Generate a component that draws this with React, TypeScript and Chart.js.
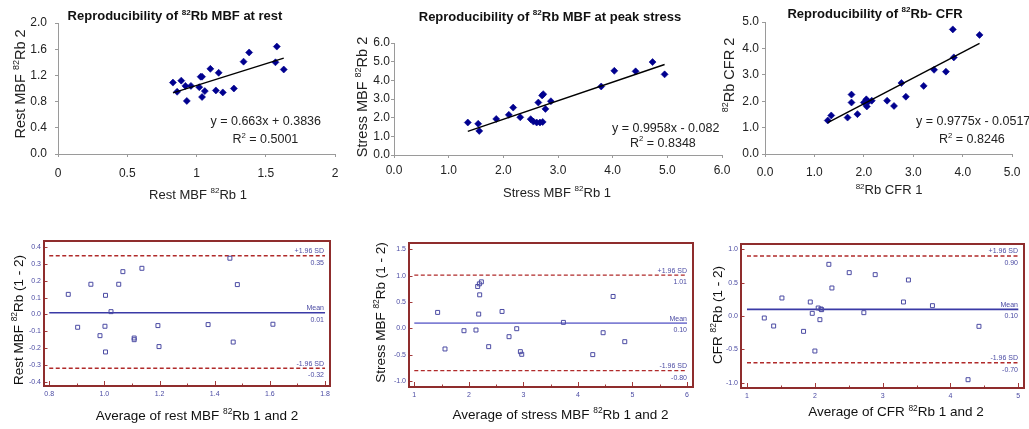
import React, { useEffect, useRef } from 'react';
import { Chart, registerables } from 'chart.js';

Chart.register(...registerables);

const PAGE_W = 1029;
const PAGE_H = 429;
const FONT = '"Liberation Sans", Arial, Helvetica, sans-serif';

// ---------------- data: test-retest scatter plots ----------------
const restRb1 = [0.83, 0.86, 0.89, 0.92, 0.93, 0.96, 1.02, 1.03, 1.04, 1.04, 1.06, 1.1, 1.14, 1.16, 1.19, 1.27, 1.34, 1.38, 1.57, 1.58, 1.63];
const restRb2 = [1.09, 0.95, 1.12, 1.04, 0.81, 1.04, 1.02, 1.18, 1.18, 0.87, 0.96, 1.3, 0.97, 1.24, 0.94, 1.0, 1.41, 1.55, 1.4, 1.64, 1.29];
const restFit = [0.663, 0.3836];
const restR2 = 0.5001;

const stressRb1 = [1.35, 1.54, 1.56, 1.87, 2.1, 2.18, 2.31, 2.5, 2.55, 2.61, 2.67, 2.72, 2.64, 2.71, 2.73, 2.77, 2.87, 3.79, 4.03, 4.42, 4.73, 4.95];
const stressRb2 = [1.74, 1.67, 1.29, 1.93, 2.15, 2.54, 2.02, 1.92, 1.79, 1.74, 1.74, 1.77, 2.81, 3.19, 3.26, 2.47, 2.88, 3.67, 4.51, 4.48, 4.98, 4.32];
const stressFit = [0.9958, -0.082];
const stressR2 = 0.8348;

const cfrRb1 = [1.27, 1.34, 1.67, 1.75, 1.75, 1.87, 2.0, 2.05, 2.06, 2.09, 2.16, 2.47, 2.61, 2.76, 2.85, 3.21, 3.42, 3.66, 3.8, 3.82, 4.34];
const cfrRb2 = [1.27, 1.46, 1.38, 2.25, 1.95, 1.51, 1.95, 2.07, 1.8, 1.98, 2.02, 2.02, 1.82, 2.69, 2.17, 2.58, 3.19, 3.12, 4.72, 3.66, 4.51];
const cfrFit = [0.9775, -0.0517];
const cfrR2 = 0.8246;

const restXTicks = [0, 0.5, 1, 1.5, 2];
const restXTickLabels = ['0', '0.5', '1', '1.5', '2'];
const restYTicks = [0, 0.4, 0.8, 1.2, 1.6, 2.0];
const restYTickLabels = ['0.0', '0.4', '0.8', '1.2', '1.6', '2.0'];
const stressTicks = [0, 1, 2, 3, 4, 5, 6];
const stressTickLabels = ['0.0', '1.0', '2.0', '3.0', '4.0', '5.0', '6.0'];
const cfrTicks = [0, 1, 2, 3, 4, 5];
const cfrTickLabels = ['0.0', '1.0', '2.0', '3.0', '4.0', '5.0'];

// ---------------- data: Bland-Altman plots ----------------
const restAvg = [0.869, 0.903, 0.951, 0.984, 1.002, 1.004, 1.004, 1.024, 1.052, 1.067, 1.108, 1.108, 1.136, 1.194, 1.198, 1.376, 1.455, 1.467, 1.482, 1.611];
const restDiff = [0.12, -0.076, 0.18, -0.126, -0.07, 0.114, -0.223, 0.017, 0.18, 0.255, -0.14, -0.15, 0.275, -0.066, -0.191, -0.06, 0.335, -0.164, 0.178, -0.058];
const restLimits = [0.35, 0.01, -0.32];

const stressAvg = [1.428, 1.563, 1.911, 2.131, 2.162, 2.193, 2.23, 2.199, 2.181, 2.364, 2.609, 2.737, 2.878, 2.945, 2.97, 3.734, 4.272, 4.462, 4.645, 4.859];
const stressDiff = [0.304, -0.389, -0.043, -0.03, 0.795, 0.845, 0.883, 0.637, 0.272, -0.345, 0.322, -0.156, -0.005, -0.44, -0.49, 0.115, -0.496, -0.081, 0.606, -0.251];
const stressLimits = [1.01, 0.1, -0.8];

const cfrAvg = [1.255, 1.393, 1.515, 1.834, 1.933, 1.962, 2.001, 2.05, 2.075, 2.09, 2.1, 2.207, 2.252, 2.507, 2.723, 2.89, 3.307, 3.38, 3.734, 4.259, 4.42];
const cfrDiff = [-0.03, -0.15, 0.27, -0.23, 0.21, 0.04, -0.525, 0.12, -0.055, 0.105, 0.095, 0.775, 0.42, 0.65, 0.05, 0.62, 0.21, 0.54, 0.155, -0.955, -0.155];
const cfrLimits = [0.9, 0.1, -0.7];

const limitNames = ['+1.96 SD', 'Mean', '-1.96 SD'];

const restAvgTicks = [0.8, 0.9, 1.0, 1.1, 1.2, 1.3, 1.4, 1.5, 1.6, 1.7, 1.8];
const restAvgTickLabels = ['0.8', '', '1.0', '', '1.2', '', '1.4', '', '1.6', '', '1.8'];
const restDiffTicks = [-0.4, -0.3, -0.2, -0.1, 0, 0.1, 0.2, 0.3, 0.4];
const restDiffTickLabels = ['-0.4', '-0.3', '-0.2', '-0.1', '0.0', '0.1', '0.2', '0.3', '0.4'];
const stressAvgTicks = [1, 1.5, 2, 2.5, 3, 3.5, 4, 4.5, 5, 5.5, 6];
const stressAvgTickLabels = ['1', '', '2', '', '3', '', '4', '', '5', '', '6'];
const stressDiffTicks = [-1, -0.5, 0, 0.5, 1, 1.5];
const stressDiffTickLabels = ['-1.0', '-0.5', '0.0', '0.5', '1.0', '1.5'];
const cfrAvgTicks = [1, 1.5, 2, 2.5, 3, 3.5, 4, 4.5, 5];
const cfrAvgTickLabels = ['1', '', '2', '', '3', '', '4', '', '5'];
const cfrDiffTicks = [-1, -0.5, 0, 0.5, 1];
const cfrDiffTickLabels = ['-1.0', '-0.5', '0.0', '0.5', '1.0'];

// ---------------- styles ----------------
const NAVY = '#00008f';
const AXIS_GREY = '#9a9a9a';
const BA_BLUE = '#4b4ba3';
const BA_RED = '#8f2d2d';
const DASH_RED = '#b02a2a';

// ---------------- helpers ----------------
type Align = 'left' | 'center' | 'right';

function drawRich(
  ctx: CanvasRenderingContext2D,
  text: string,
  x: number,
  y: number,
  size: number,
  o: { bold?: boolean; color: string; align: Align; rotate?: boolean }
) {
  const parts = text.split('^');
  const supSize = size * 0.62;
  const fontN = `${o.bold ? 'bold ' : ''}${size}px ${FONT}`;
  const fontS = `${o.bold ? 'bold ' : ''}${supSize}px ${FONT}`;
  let total = 0;
  const widths = parts.map((p, i) => {
    ctx.font = i % 2 ? fontS : fontN;
    const w = ctx.measureText(p).width;
    total += w;
    return w;
  });
  ctx.save();
  ctx.translate(x, y);
  if (o.rotate) ctx.rotate(-Math.PI / 2);
  let cx = o.align === 'left' ? 0 : o.align === 'center' ? -total / 2 : -total;
  ctx.fillStyle = o.color;
  ctx.textBaseline = 'alphabetic';
  ctx.textAlign = 'left';
  const base = size * 0.36;
  parts.forEach((p, i) => {
    ctx.font = i % 2 ? fontS : fontN;
    ctx.fillText(p, cx, i % 2 ? base - size * 0.42 : base);
    cx += widths[i];
  });
  ctx.restore();
}

type Pos = [number, number];

interface ScatterPanel {
  xs: number[];
  ys: number[];
  fit: number[];
  r2: number;
  xTicks: number[];
  xLabels: string[];
  yTicks: number[];
  yLabels: string[];
  area: [number, number, number, number];
  xLabelPad: number;
  yLabelPad: number;
  title: string;
  titlePos: Pos;
  xTitle: string;
  xTitlePos: Pos;
  yTitle: string;
  yTitlePos: Pos;
  eqPos: Pos;
  r2Pos: Pos;
}

function topAxis(ticks: number[], labels: string[], pad: number, fit: (s: any) => void) {
  return {
    type: 'linear',
    min: ticks[0],
    max: ticks[ticks.length - 1],
    afterBuildTicks: (s: any) => {
      s.ticks = ticks.map((v) => ({ value: v }));
    },
    afterFit: fit,
    ticks: {
      autoSkip: false,
      maxRotation: 0,
      minRotation: 0,
      padding: pad,
      color: '#222',
      font: { family: FONT, size: 12 },
      callback: (_v: any, i: number) => labels[i],
    },
    grid: { drawOnChartArea: false, drawTicks: true, tickLength: 3, color: AXIS_GREY, lineWidth: 1 },
    border: { display: true, color: AXIS_GREY, width: 1 },
  };
}

function scatterConfig(p: ScatterPanel): any {
  const [x1, y1, x2, y2] = p.area;
  const pts = p.xs.map((x, i) => ({ x, y: p.ys[i] }));
  const lo = Math.min(...p.xs);
  const hi = Math.max(...p.xs);
  const [m, b] = p.fit;
  const trend = [lo, hi].map((x) => ({ x, y: m * x + b }));
  const eq = `y = ${m}x ${b < 0 ? '-' : '+'} ${Math.abs(b)}`;
  const r2 = `R^2^ = ${p.r2}`;
  return {
    type: 'scatter',
    data: {
      datasets: [
        { data: trend, showLine: true, borderColor: '#000', borderWidth: 1.4, pointRadius: 0, order: 0 },
        {
          data: pts,
          pointStyle: 'rectRot',
          pointRadius: 3.5,
          backgroundColor: NAVY,
          borderColor: NAVY,
          borderWidth: 0.6,
          order: 1,
        },
      ],
    },
    options: {
      responsive: false,
      animation: false,
      devicePixelRatio: 1,
      layout: { padding: { left: 0, top: y1, right: PAGE_W - x2, bottom: 0 } },
      plugins: { legend: { display: false }, tooltip: { enabled: false } },
      scales: {
        x: topAxis(p.xTicks, p.xLabels, p.xLabelPad, (s: any) => {
          s.height = PAGE_H - y2;
        }),
        y: topAxis(p.yTicks, p.yLabels, p.yLabelPad, (s: any) => {
          s.width = x1;
        }),
      },
    },
    plugins: [
      {
        id: 'scatterText',
        afterDraw(chart: any) {
          const ctx = chart.ctx as CanvasRenderingContext2D;
          drawRich(ctx, p.title, p.titlePos[0], p.titlePos[1], 13, { bold: true, color: '#111', align: 'center' });
          drawRich(ctx, p.xTitle, p.xTitlePos[0], p.xTitlePos[1], 13, { color: '#222', align: 'center' });
          drawRich(ctx, p.yTitle, p.yTitlePos[0], p.yTitlePos[1], 14.5, { color: '#222', align: 'center', rotate: true });
          drawRich(ctx, eq, p.eqPos[0], p.eqPos[1], 12.5, { color: '#222', align: 'left' });
          drawRich(ctx, r2, p.r2Pos[0], p.r2Pos[1], 12.5, { color: '#222', align: 'left' });
        },
      },
    ],
  };
}

interface BAPanel {
  avg: number[];
  diff: number[];
  limits: number[];
  xTicks: number[];
  xLabels: string[];
  yTicks: number[];
  yLabels: string[];
  xRange: [number, number];
  yRange: [number, number];
  area: [number, number, number, number];
  meanColor: string;
  xTitle: string;
  xTitlePos: Pos;
  yTitle: string;
  yTitlePos: Pos;
}

function baAxis(ticks: number[], labels: string[], range: [number, number], pad: number, fit: (s: any) => void) {
  return {
    type: 'linear',
    min: range[0],
    max: range[1],
    afterBuildTicks: (s: any) => {
      s.ticks = ticks.map((v) => ({ value: v }));
    },
    afterFit: fit,
    ticks: {
      autoSkip: false,
      maxRotation: 0,
      minRotation: 0,
      padding: pad,
      color: BA_BLUE,
      font: { family: FONT, size: 7 },
      callback: (_v: any, i: number) => labels[i],
    },
    grid: { display: false, drawTicks: false },
    border: { display: false },
  };
}

function baConfig(p: BAPanel): any {
  const [x1, y1, x2, y2] = p.area;
  const pts = p.avg.map((x, i) => ({ x, y: p.diff[i] }));
  const from = p.xTicks[0];
  const to = p.xTicks[p.xTicks.length - 1];
  const limitSets = p.limits.map((v, i) => ({
    data: [
      { x: from, y: v },
      { x: to, y: v },
    ],
    showLine: true,
    pointRadius: 0,
    borderColor: i === 1 ? p.meanColor : DASH_RED,
    borderWidth: i === 1 ? 1.6 : 1.4,
    borderDash: i === 1 ? [] : [4, 2.5],
    order: 1,
  }));
  return {
    type: 'scatter',
    data: {
      datasets: [
        ...limitSets,
        {
          data: pts,
          pointStyle: 'rect',
          pointRadius: 2.8,
          borderWidth: 1,
          borderColor: BA_BLUE,
          backgroundColor: 'rgba(255,255,255,0)',
          order: 0,
        },
      ],
    },
    options: {
      responsive: false,
      animation: false,
      devicePixelRatio: 1,
      layout: { padding: { left: 0, top: y1, right: PAGE_W - x2, bottom: 0 } },
      plugins: { legend: { display: false }, tooltip: { enabled: false } },
      scales: {
        x: baAxis(p.xTicks, p.xLabels, p.xRange, 4, (s: any) => {
          s.height = PAGE_H - y2;
        }),
        y: baAxis(p.yTicks, p.yLabels, p.yRange, 3, (s: any) => {
          s.width = x1;
        }),
      },
    },
    plugins: [
      {
        id: 'baDecor',
        afterDraw(chart: any) {
          const ctx = chart.ctx as CanvasRenderingContext2D;
          const { left, right, top, bottom } = chart.chartArea;
          const xs = chart.scales.x;
          const ys = chart.scales.y;
          ctx.save();
          // tick marks (inside the frame)
          ctx.strokeStyle = '#a33a3a';
          ctx.lineWidth = 1;
          ctx.beginPath();
          p.xTicks.forEach((v, i) => {
            const px = Math.round(xs.getPixelForValue(v)) + 0.5;
            ctx.moveTo(px, bottom);
            ctx.lineTo(px, bottom - (p.xLabels[i] ? 5 : 2.5));
          });
          p.yTicks.forEach((v) => {
            const py = Math.round(ys.getPixelForValue(v)) + 0.5;
            ctx.moveTo(left, py);
            ctx.lineTo(left + 3.5, py);
          });
          ctx.stroke();
          // frame
          ctx.strokeStyle = BA_RED;
          ctx.lineWidth = 2;
          ctx.strokeRect(left, top, right - left, bottom - top);
          ctx.restore();
          // limit labels
          p.limits.forEach((v, i) => {
            const py = ys.getPixelForValue(v);
            drawRich(ctx, limitNames[i], right - 6, py - 5, 7, { color: BA_BLUE, align: 'right' });
            drawRich(ctx, v.toFixed(2), right - 6, py + 6.5, 7, { color: BA_BLUE, align: 'right' });
          });
          drawRich(ctx, p.xTitle, p.xTitlePos[0], p.xTitlePos[1], 13.5, { color: '#111', align: 'center' });
          drawRich(ctx, p.yTitle, p.yTitlePos[0], p.yTitlePos[1], 13.5, { color: '#111', align: 'center', rotate: true });
        },
      },
    ],
  };
}

// ---------------- panels ----------------
const makers: Array<() => any> = [
  () =>
    scatterConfig({
      xs: restRb1,
      ys: restRb2,
      fit: restFit,
      r2: restR2,
      xTicks: restXTicks,
      xLabels: restXTickLabels,
      yTicks: restYTicks,
      yLabels: restYTickLabels,
      area: [58, 23, 335, 154],
      xLabelPad: 9.5,
      yLabelPad: 8,
      title: 'Reproducibility of ^82^Rb MBF at rest',
      titlePos: [175, 15.5],
      xTitle: 'Rest MBF ^82^Rb 1',
      xTitlePos: [198, 194],
      yTitle: 'Rest MBF ^82^Rb 2',
      yTitlePos: [20, 84],
      eqPos: [210.5, 120],
      r2Pos: [232.5, 138.5],
    }),
  () =>
    scatterConfig({
      xs: stressRb1,
      ys: stressRb2,
      fit: stressFit,
      r2: stressR2,
      xTicks: stressTicks,
      xLabels: stressTickLabels,
      yTicks: stressTicks,
      yLabels: stressTickLabels,
      area: [394, 43, 722, 155],
      xLabelPad: 5.5,
      yLabelPad: 1,
      title: 'Reproducibility of ^82^Rb MBF at peak stress',
      titlePos: [550, 16],
      xTitle: 'Stress MBF ^82^Rb 1',
      xTitlePos: [557, 192],
      yTitle: 'Stress MBF ^82^Rb 2',
      yTitlePos: [362, 97],
      eqPos: [612, 127],
      r2Pos: [630, 142],
    }),
  () =>
    scatterConfig({
      xs: cfrRb1,
      ys: cfrRb2,
      fit: cfrFit,
      r2: cfrR2,
      xTicks: cfrTicks,
      xLabels: cfrTickLabels,
      yTicks: cfrTicks,
      yLabels: cfrTickLabels,
      area: [765, 22, 1014, 154],
      xLabelPad: 8.5,
      yLabelPad: 3,
      title: 'Reproducibility of ^82^Rb- CFR',
      titlePos: [875, 13],
      xTitle: '^82^Rb CFR 1',
      xTitlePos: [889, 189.5],
      yTitle: '^82^Rb CFR 2',
      yTitlePos: [729, 75],
      eqPos: [916, 120],
      r2Pos: [939, 138.5],
    }),
  () =>
    baConfig({
      avg: restAvg,
      diff: restDiff,
      limits: restLimits,
      xTicks: restAvgTicks,
      xLabels: restAvgTickLabels,
      yTicks: restDiffTicks,
      yLabels: restDiffTickLabels,
      xRange: [0.781, 1.818],
      yRange: [-0.4256, 0.4375],
      area: [44, 241, 330, 386],
      meanColor: '#3a3aa6',
      xTitle: 'Average of rest MBF ^82^Rb 1 and 2',
      xTitlePos: [197, 415],
      yTitle: 'Rest MBF ^82^Rb (1 - 2)',
      yTitlePos: [18, 320],
    }),
  () =>
    baConfig({
      avg: stressAvg,
      diff: stressDiff,
      limits: stressLimits,
      xTicks: stressAvgTicks,
      xLabels: stressAvgTickLabels,
      yTicks: stressDiffTicks,
      yLabels: stressDiffTickLabels,
      xRange: [0.903, 6.11],
      yRange: [-1.1095, 1.619],
      area: [409, 243, 693, 387],
      meanColor: '#8080d4',
      xTitle: 'Average of stress MBF ^82^Rb 1 and 2',
      xTitlePos: [560.5, 414],
      yTitle: 'Stress MBF ^82^Rb (1 - 2)',
      yTitlePos: [380, 312.5],
    }),
  () =>
    baConfig({
      avg: cfrAvg,
      diff: cfrDiff,
      limits: cfrLimits,
      xTicks: cfrAvgTicks,
      xLabels: cfrAvgTickLabels,
      yTicks: cfrDiffTicks,
      yLabels: cfrDiffTickLabels,
      xRange: [0.9116, 5.084],
      yRange: [-1.0795, 1.0795],
      area: [741, 244, 1024, 388],
      meanColor: '#3a3aa6',
      xTitle: 'Average of CFR ^82^Rb 1 and 2',
      xTitlePos: [896, 411.5],
      yTitle: 'CFR ^82^Rb (1 - 2)',
      yTitlePos: [717, 315],
    }),
];

function ChartCanvas({ make }: { make: () => any }) {
  const ref = useRef<HTMLCanvasElement | null>(null);
  useEffect(() => {
    if (!ref.current) return;
    const chart = new Chart(ref.current, make());
    return () => chart.destroy();
  }, [make]);
  return (
    <canvas
      ref={ref}
      width={PAGE_W}
      height={PAGE_H}
      style={{ position: 'absolute', left: 0, top: 0, width: PAGE_W, height: PAGE_H }}
    />
  );
}

export default function App() {
  return (
    <div
      style={{
        position: 'absolute',
        left: 0,
        top: 0,
        width: PAGE_W,
        height: PAGE_H,
        background: '#ffffff',
        overflow: 'hidden',
      }}
    >
      {makers.map((m, i) => (
        <ChartCanvas key={i} make={m} />
      ))}
    </div>
  );
}
